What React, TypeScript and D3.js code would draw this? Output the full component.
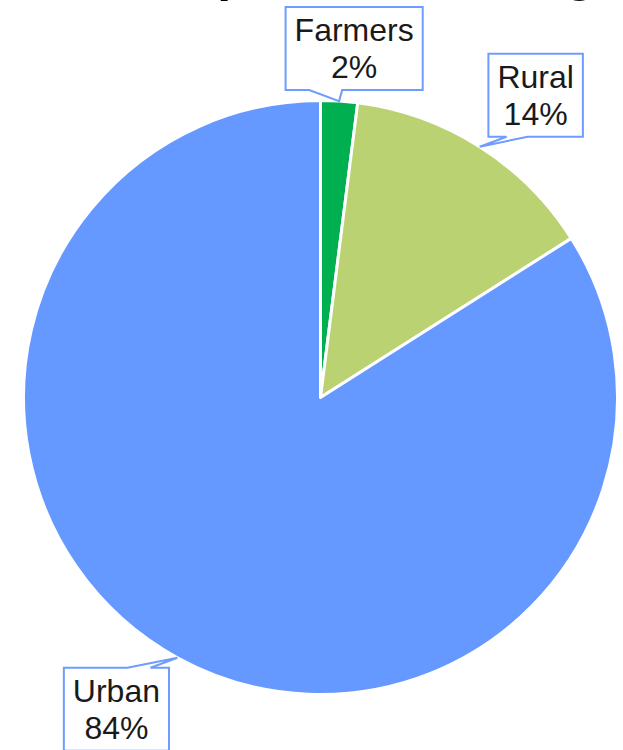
import React, { useEffect, useRef } from "react";
import * as d3 from "d3";

const categories = ["Farmers", "Rural", "Urban"];
const shares = [2, 14, 84];
const sliceColors = ["#00B050", "#BAD271", "#6699FF"];
const titleText = "Consumption Percentage";

// label callout layout (relative to slice tip on the rim)
const calloutLayout = [
  { dx: 15, dy: -11, side: "above", base: [-30, 3] },
  { dx: 56, dy: -10, side: "above", base: [27, 48] },
  { dx: -61, dy: 10, side: "below", base: [-50, -27] },
];

const W = 623;
const H = 750;
const CX = 320.5;
const CY = 397.5;
const R = 297;
const FONT = "Liberation Sans, Arial, sans-serif";

export default function App() {
  const ref = useRef<SVGSVGElement | null>(null);

  useEffect(() => {
    const svg = d3.select(ref.current);
    svg.selectAll("*").remove();

    svg
      .append("text")
      .attr("x", 320)
      .attr("y", -9)
      .attr("text-anchor", "middle")
      .attr("font-family", FONT)
      .attr("font-weight", "bold")
      .attr("font-size", 50)
      .attr("fill", "#000")
      .text(titleText);

    const data = categories.map((c, i) => ({ name: c, value: shares[i], i }));
    const pie = d3
      .pie<any>()
      .value((d) => d.value)
      .sort(null)
      .startAngle(0)
      .endAngle(2 * Math.PI);
    const arcs = pie(data);
    const arc = d3.arc<any>().innerRadius(0).outerRadius(R);

    const g = svg.append("g").attr("transform", `translate(${CX},${CY})`);
    g.selectAll("path.slice")
      .data(arcs)
      .join("path")
      .attr("class", "slice")
      .attr("d", arc as any)
      .attr("fill", (d: any) => sliceColors[d.data.i])
      .attr("stroke", "#fff")
      .attr("stroke-width", 3)
      .attr("stroke-linejoin", "round");

    const fontSize = 32;
    const lineH = 37;
    const padX = 9;
    const boxH = 83;

    arcs.forEach((a: any, k: number) => {
      const mid = (a.startAngle + a.endAngle) / 2;
      const tx = CX + R * Math.sin(mid);
      const ty = CY - R * Math.cos(mid);
      const L = calloutLayout[k];
      const lg = svg.append("g");
      const t1 = lg
        .append("text")
        .attr("font-family", FONT)
        .attr("font-size", fontSize)
        .attr("fill", "#1a1a1a")
        .attr("text-anchor", "middle")
        .text(a.data.name);
      const t2 = lg
        .append("text")
        .attr("font-family", FONT)
        .attr("font-size", fontSize)
        .attr("fill", "#1a1a1a")
        .attr("text-anchor", "middle")
        .text(`${a.data.value}%`);
      const w1 = (t1.node() as SVGTextElement).getComputedTextLength();
      const w2 = (t2.node() as SVGTextElement).getComputedTextLength();
      const bw = Math.max(w1, w2) + 2 * padX;
      const bcx = tx + L.dx;
      const left = bcx - bw / 2;
      const right = bcx + bw / 2;
      let top: number, bottom: number, path: string;
      const b0 = tx + L.base[0];
      const b1 = tx + L.base[1];
      if (L.side === "above") {
        bottom = ty + L.dy;
        top = bottom - boxH;
        path = `M${left},${top}H${right}V${bottom}H${b1}L${tx},${ty}L${b0},${bottom}H${left}Z`;
      } else {
        top = ty + L.dy;
        bottom = top + boxH;
        path = `M${left},${top}H${b0}L${tx},${ty}L${b1},${top}H${right}V${bottom}H${left}Z`;
      }
      lg.insert("path", "text")
        .attr("d", path)
        .attr("fill", "#fff")
        .attr("stroke", "#6E9CFF")
        .attr("stroke-width", 2)
        .attr("stroke-linejoin", "miter");
      t1.attr("x", bcx).attr("y", top + 34);
      t2.attr("x", bcx).attr("y", top + 34 + lineH);
    });
  }, []);

  return (
    <svg
      ref={ref}
      width={W}
      height={H}
      style={{ position: "absolute", left: 0, top: 0, display: "block", overflow: "visible" }}
    />
  );
}
